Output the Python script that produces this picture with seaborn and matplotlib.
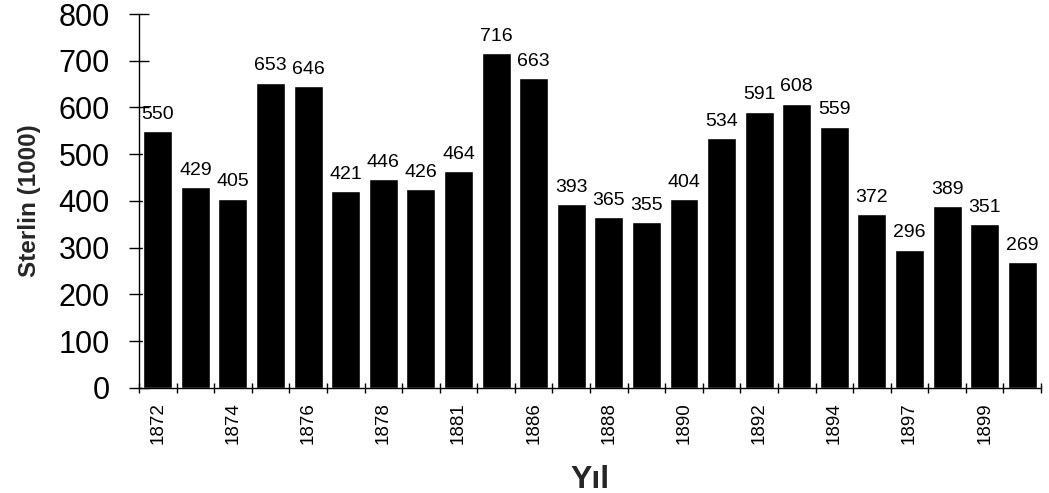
import matplotlib
matplotlib.use("Agg")
import matplotlib.pyplot as plt
import seaborn as sns
import pandas as pd
import numpy as np

years = ["1872", "1873", "1874", "1875", "1876", "1877", "1878", "1879",
         "1881", "1885", "1886", "1887", "1888", "1889", "1890", "1891",
         "1892", "1893", "1894", "1896", "1897", "1898", "1899", "1900"]
values = [550, 429, 405, 653, 646, 421, 446, 426, 464, 716, 663, 393,
          365, 355, 404, 534, 591, 608, 559, 372, 296, 389, 351, 269]
shown_labels = ["1872", "1874", "1876", "1878", "1881", "1886",
                "1888", "1890", "1892", "1894", "1897", "1899"]
y_ticks = [0, 100, 200, 300, 400, 500, 600, 700, 800]

sns.set_theme(style="white")
plt.rcParams['font.family'] = ['Liberation Sans', 'DejaVu Sans']

df = pd.DataFrame({"Yıl": years, "Sterlin": values})

fig = plt.figure(figsize=(10.49, 4.93), dpi=100)
ax = fig.add_axes([0.1325, 0.213, 0.8599, 0.7586])

sns.barplot(data=df, x="Yıl", y="Sterlin", color="black", width=0.77,
            saturation=1, ax=ax, order=years)

for c in ax.containers:
    ax.bar_label(c, labels=[str(v) for v in values], padding=6,
                 fontsize=14, color="black")

ax.set_xlim(-0.5, len(years) - 0.5)
ax.set_ylim(0, 800)
ax.set_yticks(y_ticks)
ax.set_yticklabels([str(t) for t in y_ticks], fontsize=22)

pos = [years.index(y) for y in shown_labels]
ax.set_xticks(pos)
ax.set_xticklabels(shown_labels, rotation=90, fontsize=13.5)
ax.set_xticks(np.arange(len(years) + 1) - 0.5, minor=True)
ax.tick_params(axis="x", which="major", length=0, pad=10, colors="black")
ax.tick_params(axis="x", which="minor", direction="inout", length=7,
               width=1, color="black")
ax.tick_params(axis="y", direction="inout", length=14, width=1,
               color="black", pad=14, labelcolor="black")
ax.tick_params(left=True, bottom=True, which="both")

for s in ["top", "right"]:
    ax.spines[s].set_visible(False)
for s in ["left", "bottom"]:
    ax.spines[s].set_color("black")
    ax.spines[s].set_linewidth(1)

ax.set_ylabel("Sterlin (1000)", fontsize=17.5, fontweight="bold", labelpad=13)
ax.set_xlabel("Yıl", fontsize=23, fontweight="bold", labelpad=15)

fig.savefig("out.png", dpi=100)
